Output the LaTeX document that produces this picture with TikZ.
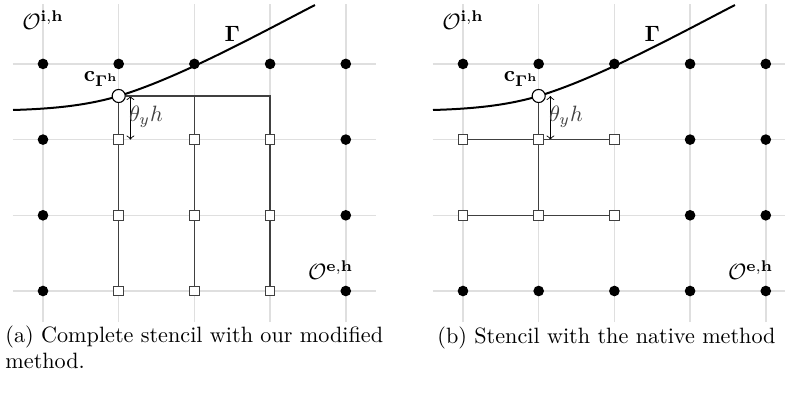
\documentclass[tikz,border=0pt]{standalone}
\usepackage{amsmath}
\usetikzlibrary{calc}

\tikzset{
  gridline/.style={gray!25, line width=0.7pt},
  iface/.style={black, line width=0.9pt},
  outpt/.style={circle, fill=black, inner sep=0pt, minimum size=4.8pt},
  stencilpt/.style={rectangle, draw=black!75, fill=white, inner sep=0pt, minimum size=4.3pt, line width=0.5pt},
  bdrypt/.style={circle, draw=black, fill=white, inner sep=0pt, minimum size=5.9pt, line width=0.5pt},
  stencil/.style={black!75, line width=0.6pt},
  dimline/.style={<->, black, line width=0.4pt, >=to},
  subcap/.style={anchor=base west, inner sep=0pt, align=left},
}

\begin{document}
\begin{tikzpicture}[x=1.2cm, y=1.2cm]
\useasboundingbox (-0.568,-1.387) rectangle (9.802,3.844);

% common part of both panels: grid, interface, top row, labels
\foreach \p/\dx in {a/0, b/5.548}{
\begin{scope}[shift={(\dx,0)}]
  \foreach \i in {0,...,4} \draw[gridline] (\i,-0.41) -- (\i,3.79);
  \foreach \j in {0,...,3} \draw[gridline] (-0.4,\j) -- (4.4,\j);

  \draw[iface] (-0.396,2.391) .. controls (0.07,2.405) and (0.55,2.441) .. (1,2.576)
     .. controls (1.8,2.816) and (2.9,3.42) .. (3.593,3.778);

  \foreach \i in {0,...,4} \node[outpt] (\p-\i-3) at (\i,3) {};
  \node[bdrypt] (\p-c) at (1,2.576) {};

  \node (\p-oi) at (0,3.58) {$\mathcal{O}^{\mathbf{i,h}}$};
  \node (\p-gam) at (2.50,3.395) {$\mathbf{\Gamma}$};
  \node (\p-cg) at (0.77,2.80) {$\mathbf{c}_{\mathbf{\Gamma}^{\mathbf{h}}}$};
  \node (\p-oe) at (3.80,0.28) {$\mathcal{O}^{\mathbf{e,h}}$};

  % distance to the first row
  \coordinate (\p-dt) at (1.155,2.576);
  \coordinate (\p-db) at (1.155,2);
  \draw[dimline] (\p-dt) -- (\p-db);
  \node[text=black!75] (\p-th) at (1.36,2.30) {$\theta_y h$};
\end{scope}
}

% (a) modified method: three full columns
\foreach \j in {0,1,2}{
  \node[outpt] (a-0-\j) at (0,\j) {};
  \node[outpt] (a-4-\j) at (4,\j) {};
  \foreach \i in {1,2,3} \node[stencilpt] (a-\i-\j) at (\i,\j) {};
}
\coordinate (a-k2) at (2,2.576);
\coordinate (a-k3) at (3,2.576);
\draw[stencil] (a-c) -- (a-1-2) -- (a-1-1) -- (a-1-0);
\draw[stencil] (a-c) -- (a-k2) -- (a-k3) -- (a-3-2) -- (a-3-1) -- (a-3-0);
\draw[stencil] (a-k2) -- (a-2-2) -- (a-2-1) -- (a-2-0);

\node[subcap] (a-cap) at (-0.502,-1.03)
  {(a) Complete stencil with our modified\\method.};

% (b) native method
\begin{scope}[shift={(5.548,0)}]
\foreach \i in {0,...,4} \node[outpt] (b-\i-0) at (\i,0) {};
\foreach \j in {1,2}{
  \foreach \i in {0,1,2} \node[stencilpt] (b-\i-\j) at (\i,\j) {};
  \foreach \i in {3,4} \node[outpt] (b-\i-\j) at (\i,\j) {};
}
\end{scope}
\draw[stencil] (b-c) -- (b-1-2) -- (b-1-1);
\draw[stencil] (b-0-2) -- (b-1-2) -- (b-2-2);
\draw[stencil] (b-0-1) -- (b-1-1) -- (b-2-1);

\node[subcap] (b-cap) at (5.205,-0.70)
  {(b) Stencil with the native method};
\end{tikzpicture}
\end{document}
